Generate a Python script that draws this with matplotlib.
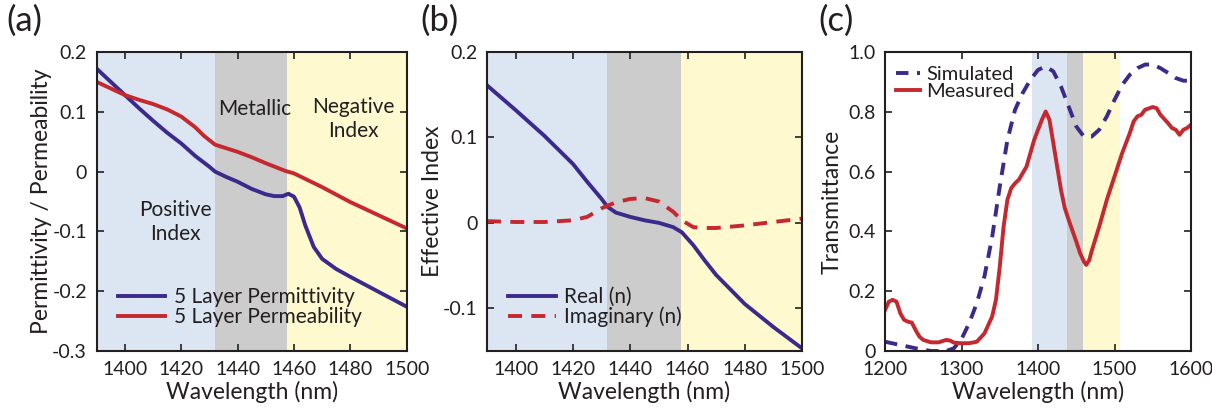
import numpy as np
import matplotlib
matplotlib.use('Agg')
import matplotlib.pyplot as plt

plt.rcParams['font.family'] = ['Lato', 'DejaVu Sans']
plt.rcParams['axes.unicode_minus'] = False
plt.rcParams['text.color'] = '#231f20'
plt.rcParams['axes.labelcolor'] = '#231f20'
plt.rcParams['xtick.color'] = '#231f20'
plt.rcParams['ytick.color'] = '#231f20'

# ---------- data ----------
# (a) permittivity / permeability
wl_eps = [1390, 1395, 1400, 1405, 1410, 1415, 1420, 1425, 1430, 1432, 1436, 1440,
          1445, 1450, 1453, 1456, 1458, 1460, 1462, 1464, 1467, 1470, 1475, 1480,
          1490, 1500]
eps = [0.172, 0.150, 0.128, 0.106, 0.085, 0.065, 0.047, 0.026, 0.008, 0.0, -0.009,
       -0.017, -0.029, -0.038, -0.041, -0.041, -0.037, -0.042, -0.060, -0.090,
       -0.126, -0.146, -0.163, -0.176, -0.201, -0.226]
wl_mu = [1390, 1395, 1400, 1405, 1410, 1415, 1420, 1425, 1428, 1432, 1436, 1440,
         1445, 1450, 1457, 1460, 1470, 1480, 1490, 1500]
mu = [0.150, 0.139, 0.128, 0.120, 0.113, 0.104, 0.092, 0.074, 0.060, 0.045, 0.039,
      0.033, 0.024, 0.014, 0.001, -0.003, -0.026, -0.051, -0.073, -0.095]

# (b) effective index
wl_n = [1390, 1400, 1410, 1420, 1425, 1430, 1432, 1435, 1440, 1445, 1450, 1455, 1458,
        1462, 1466, 1470, 1480, 1490, 1500]
n_real = [0.161, 0.132, 0.102, 0.069, 0.048, 0.028, 0.019, 0.012, 0.007, 0.003,
          0.0, -0.005, -0.011, -0.026, -0.044, -0.061, -0.095, -0.122, -0.147]
n_imag = [0.002, 0.001, 0.001, 0.003, 0.007, 0.017, 0.020, 0.024, 0.028, 0.029,
          0.025, 0.013, 0.003, -0.005, -0.006, -0.006, -0.003, 0.001, 0.005]

# (c) transmittance
wl_sim = [1200, 1220, 1240, 1260, 1280, 1290, 1300, 1310, 1320, 1330, 1340, 1350,
          1360, 1370, 1380, 1390, 1400, 1410, 1420, 1430, 1440, 1450, 1460, 1470,
          1480, 1490, 1500, 1510, 1520, 1530, 1540, 1550, 1560, 1570, 1580, 1590, 1600]
t_sim = [0.031, 0.020, 0.009, 0.0, 0.0, 0.009, 0.040, 0.093, 0.160, 0.250, 0.380,
         0.550, 0.706, 0.807, 0.863, 0.907, 0.940, 0.952, 0.935, 0.885, 0.818,
         0.751, 0.717, 0.717, 0.740, 0.785, 0.840, 0.890, 0.924, 0.946, 0.958,
         0.958, 0.946, 0.930, 0.913, 0.904, 0.904]
wl_meas = [1200, 1205, 1210, 1215, 1220, 1225, 1230, 1235, 1240, 1245, 1250, 1260,
           1270, 1280, 1285, 1290, 1300, 1310, 1320, 1330, 1340, 1345, 1350, 1355,
           1360, 1365, 1370, 1375, 1380, 1385, 1390, 1395, 1400, 1405, 1410, 1415,
           1420, 1425, 1430, 1435, 1440, 1450, 1455, 1460, 1463, 1467, 1470, 1480,
           1490, 1500, 1510, 1520, 1525, 1530, 1535, 1540, 1550, 1555, 1560, 1570,
           1575, 1580, 1585, 1590, 1595, 1600]
t_meas = [0.137, 0.165, 0.171, 0.165, 0.126, 0.104, 0.098, 0.095, 0.070, 0.048,
          0.037, 0.029, 0.029, 0.037, 0.035, 0.028, 0.026, 0.026, 0.031, 0.059,
          0.115, 0.171, 0.282, 0.416, 0.506, 0.545, 0.561, 0.573, 0.595, 0.617,
          0.662, 0.706, 0.740, 0.773, 0.801, 0.773, 0.695, 0.617, 0.539, 0.478,
          0.439, 0.366, 0.327, 0.299, 0.288, 0.304, 0.333, 0.416, 0.506, 0.584,
          0.662, 0.729, 0.768, 0.785, 0.790, 0.807, 0.816, 0.812, 0.790, 0.762,
          0.746, 0.740, 0.723, 0.740, 0.746, 0.757]

# shaded regions (start, end) for each panel
bands_ab = [(1390, 1432), (1432, 1457.6), (1457.6, 1500)]
bands_c = [(1392, 1437.5), (1437.5, 1459), (1459, 1507)]
band_colors = ['#dce6f2', '#cccccc', '#fef9cf']

NAVY = '#3b2a8c'
RED = '#c5282e'
TICK_FS = 14
LAB_FS = 16.5
LEG_FS = 15


def style_axes(ax):
    ax.tick_params(direction='in', top=True, right=True, length=5, width=1.2,
                   labelsize=TICK_FS, pad=7)
    for s in ax.spines.values():
        s.set_linewidth(1.5)
        s.set_color('#231f20')


fig = plt.figure(figsize=(12.12, 4.19), dpi=100)

# ---------- (a) ----------
ax1 = fig.add_axes([0.0798, 0.1623, 0.2558, 0.7136])
for (a, b), c in zip(bands_ab, band_colors):
    ax1.axvspan(a, b, color=c, lw=0, zorder=0)
ax1.plot(wl_eps, eps, color=NAVY, lw=2.8, label='5 Layer Permittivity')
ax1.plot(wl_mu, mu, color=RED, lw=2.8, label='5 Layer Permeability')
ax1.set_xlim(1390, 1500)
ax1.set_ylim(-0.3, 0.2)
ax1.set_xticks([1400, 1420, 1440, 1460, 1480, 1500])
ax1.set_yticks([0.2, 0.1, 0, -0.1, -0.2, -0.3])
ax1.set_yticklabels(['0.2', '0.1', '0', '-0.1', '-0.2', '-0.3'])
ax1.set_xlabel('Wavelength (nm)', fontsize=LAB_FS, labelpad=2)
ax1.set_ylabel('Permittivity / Permeability', fontsize=LAB_FS, labelpad=0)
ax1.text(1418, -0.085, 'Positive\nIndex', ha='center', va='center', fontsize=LEG_FS,
         linespacing=1.25)
ax1.text(1446, 0.105, 'Metallic', ha='center', va='center', fontsize=LEG_FS)
ax1.text(1481, 0.088, 'Negative\nIndex', ha='center', va='center', fontsize=LEG_FS,
         linespacing=1.25)
ax1.legend(loc='lower left', frameon=False, fontsize=LEG_FS, handlelength=2.3,
           labelspacing=0.0, borderaxespad=0.3, handletextpad=0.4,
           bbox_to_anchor=(0.02, 0.03))
style_axes(ax1)

# ---------- (b) ----------
ax2 = fig.add_axes([0.4018, 0.1623, 0.26, 0.7136])
for (a, b), c in zip(bands_ab, band_colors):
    ax2.axvspan(a, b, color=c, lw=0, zorder=0)
ax2.plot(wl_n, n_real, color=NAVY, lw=2.8, label='Real (n)')
ax2.plot(wl_n, n_imag, color=RED, lw=2.8, ls=(0, (3.6, 2.4)), label='Imaginary (n)')
ax2.set_xlim(1390, 1500)
ax2.set_ylim(-0.15, 0.2)
ax2.set_xticks([1400, 1420, 1440, 1460, 1480, 1500])
ax2.set_yticks([0.2, 0.1, 0, -0.1])
ax2.set_yticklabels(['0.2', '0.1', '0', '-0.1'])
ax2.set_xlabel('Wavelength (nm)', fontsize=LAB_FS, labelpad=2)
ax2.set_ylabel('Effective Index', fontsize=LAB_FS, labelpad=0)
ax2.legend(loc='lower left', frameon=False, fontsize=LEG_FS, handlelength=2.3,
           labelspacing=0.0, borderaxespad=0.3, handletextpad=0.4,
           bbox_to_anchor=(0.02, 0.03))
style_axes(ax2)

# ---------- (c) ----------
ax3 = fig.add_axes([0.7302, 0.1623, 0.2525, 0.7136])
for (a, b), c in zip(bands_c, band_colors):
    ax3.axvspan(a, b, color=c, lw=0, zorder=0)
ax3.plot(wl_sim, t_sim, color=NAVY, lw=2.8, ls=(0, (3.2, 2.2)), label='Simulated')
ax3.plot(wl_meas, t_meas, color=RED, lw=2.8, label='Measured')
ax3.set_xlim(1200, 1600)
ax3.set_ylim(0, 1.0)
ax3.set_xticks([1200, 1300, 1400, 1500, 1600])
ax3.set_yticks([0, 0.2, 0.4, 0.6, 0.8, 1.0])
ax3.set_yticklabels(['0', '0.2', '0.4', '0.6', '0.8', '1.0'])
ax3.set_xlabel('Wavelength (nm)', fontsize=LAB_FS, labelpad=2)
ax3.set_ylabel('Transmittance', fontsize=LAB_FS, labelpad=4)
ax3.legend(loc='upper left', frameon=False, fontsize=LEG_FS - 0.5, handlelength=1.2,
           labelspacing=0.0, borderaxespad=0.15, handletextpad=0.3,
           bbox_to_anchor=(0.0, 0.99))
style_axes(ax3)

# panel labels
fig.text(0.005, 0.99, '(a)', fontsize=25, va='top', ha='left')
fig.text(0.347, 0.99, '(b)', fontsize=25, va='top', ha='left')
fig.text(0.675, 0.99, '(c)', fontsize=25, va='top', ha='left')

fig.savefig('out.png', dpi=100)
